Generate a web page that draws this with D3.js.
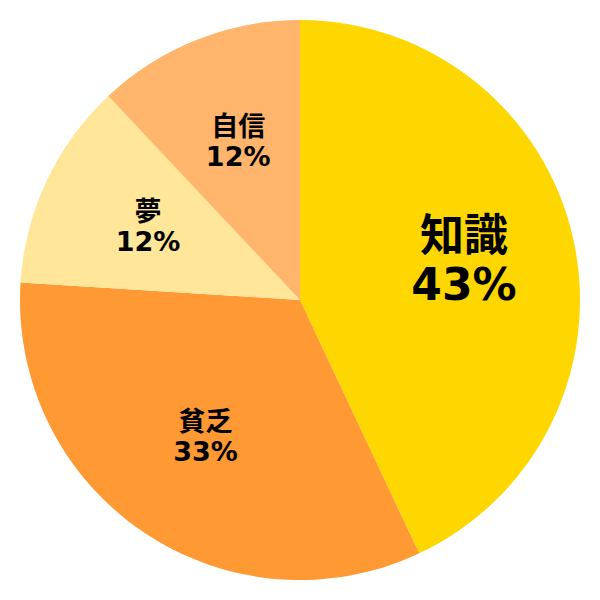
<!DOCTYPE html>
<html>
<head>
<meta charset="utf-8">
<script src="https://cdn.jsdelivr.net/npm/d3@7"></script>
<style>
  html, body { margin: 0; padding: 0; background: #fff; }
  svg { display: block; }
  text { font-family: "DejaVu Sans", "Noto Sans CJK JP", sans-serif; font-weight: bold; fill: #000; }
</style>
</head>
<body>
<svg id="chart" width="600" height="600"></svg>
<script>
// Slices, clockwise from 12 o'clock
const labels = ["知識", "貧乏", "夢", "自信"];
const values = [43, 33, 12, 12];
const colors = ["#FFD700", "#FF9933", "#FFE699", "#FFB56B"];
// Larger type for the leading slice
const fontSizes = [44, 27, 27, 27];

const width = 600, height = 600;
const radius = 280;
const labelRadius = 168;

const data = labels.map((label, i) => ({ label, value: values[i], color: colors[i], size: fontSizes[i] }));

const svg = d3.select("#chart");
const g = svg.append("g").attr("transform", `translate(${width / 2},${height / 2})`);

const pie = d3.pie().value(d => d.value).sort(null);
const arc = d3.arc().innerRadius(0).outerRadius(radius);
const labelArc = d3.arc().innerRadius(labelRadius).outerRadius(labelRadius);

const arcs = pie(data);

g.selectAll("path.slice")
  .data(arcs)
  .join("path")
  .attr("class", "slice")
  .attr("d", arc)
  .attr("fill", d => d.data.color);

const lbl = g.selectAll("g.label")
  .data(arcs)
  .join("g")
  .attr("class", "label")
  .attr("transform", d => `translate(${labelArc.centroid(d)})`);

lbl.append("text")
  .attr("text-anchor", "middle")
  .attr("dominant-baseline", "central")
  .attr("y", d => -d.data.size * 0.64)
  .attr("font-size", d => d.data.size)
  .text(d => d.data.label);

lbl.append("text")
  .attr("text-anchor", "middle")
  .attr("dominant-baseline", "central")
  .attr("y", d => d.data.size * 0.48)
  .attr("font-size", d => d.data.size)
  .text(d => d.data.value + "%");
</script>
</body>
</html>
